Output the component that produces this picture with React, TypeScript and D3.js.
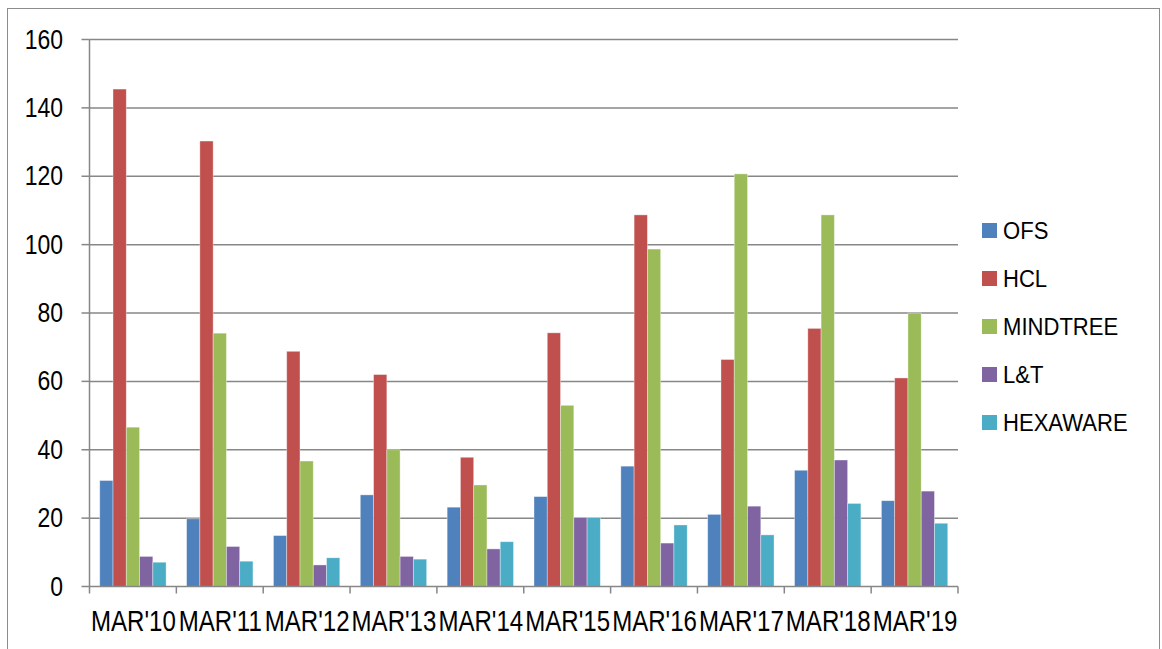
import React from 'react';
import * as d3 from 'd3';

const categories = ["MAR'10", "MAR'11", "MAR'12", "MAR'13", "MAR'14", "MAR'15", "MAR'16", "MAR'17", "MAR'18", "MAR'19"];
const seriesNames = ['OFS', 'HCL', 'MINDTREE', 'L&T', 'HEXAWARE'];
const seriesColors = ['#4F81BD', '#C0504D', '#9BBB59', '#8064A2', '#4BACC6'];

const ofs = [31.0, 19.8, 14.9, 26.8, 23.2, 26.3, 35.2, 21.1, 34.0, 25.1];
const hcl = [145.5, 130.3, 68.8, 62.0, 37.8, 74.2, 108.7, 66.4, 75.5, 61.0];
const mindtree = [46.6, 74.1, 36.7, 40.0, 29.7, 53.0, 98.7, 120.7, 108.7, 80.0];
const lnt = [8.8, 11.7, 6.3, 8.8, 11.0, 20.2, 12.7, 23.5, 37.0, 27.9];
const hexaware = [7.1, 7.4, 8.4, 8.0, 13.1, 20.2, 18.0, 15.1, 24.3, 18.5];

const yTicks = [0, 20, 40, 60, 80, 100, 120, 140, 160];

const allSeries = [ofs, hcl, mindtree, lnt, hexaware];
const font = 'Arial, "Liberation Sans", sans-serif';

export default function App() {
  const width = 1162, height = 649;
  const left = 89.5, right = 958, top = 39.5, bottom = 586.5;

  const x0 = d3.scaleBand<string>().domain(categories).range([left, right]);
  const bw = x0.bandwidth();
  const x1 = d3.scaleBand<string>().domain(seriesNames).range([bw * 0.118, bw * 0.882]);
  const y = d3.scaleLinear().domain([0, 160]).range([bottom, top]);

  const grid = '#878787';

  return (
    <svg width={width} height={height} style={{ position: 'absolute', left: 0, top: 0, background: '#fff' }}>
      <rect x={7.5} y={8.5} width={1152} height={660} fill="#fff" stroke="#8c8c8c" strokeWidth={1} />

      {/* gridlines + y ticks */}
      {yTicks.map(t => (
        <g key={t}>
          {t > 0 && <line x1={left} x2={right} y1={y(t)} y2={y(t)} stroke={grid} strokeWidth={1.5} />}
          <line x1={left - 8} x2={left} y1={y(t)} y2={y(t)} stroke={grid} strokeWidth={1.5} />
          <text transform={`translate(63,${y(t) + 9}) scale(0.82,1)`} textAnchor="end" fontFamily={font} fontSize={28} fill="#000">{t}</text>
        </g>
      ))}

      {/* bars */}
      {categories.map((c, i) => (
        <g key={c} transform={`translate(${x0(c)},0)`}>
          {seriesNames.map((s, j) => (
            <rect key={s}
              x={x1(s)}
              y={y(allSeries[j][i])}
              width={x1.bandwidth()}
              height={y(0) - y(allSeries[j][i])}
              fill={seriesColors[j]}
              stroke="rgba(255,255,255,0.45)"
              strokeWidth={0.8} />
          ))}
        </g>
      ))}

      {/* axes */}
      <line x1={left} x2={left} y1={top} y2={bottom + 7} stroke={grid} strokeWidth={1.5} />
      <line x1={left} x2={right} y1={bottom} y2={bottom} stroke={grid} strokeWidth={1.5} />
      {categories.map(c => (
        <line key={'t' + c} x1={(x0(c) as number) + bw} x2={(x0(c) as number) + bw} y1={bottom} y2={bottom + 7} stroke={grid} strokeWidth={1.5} />
      ))}
      {categories.map(c => (
        <text key={'l' + c} transform={`translate(${(x0(c) as number) + bw / 2 + 0.5},631) scale(0.83,1)`} textAnchor="middle" fontFamily={font} fontSize={29} fill="#000">{c}</text>
      ))}

      {/* legend */}
      {seriesNames.map((s, j) => (
        <g key={'lg' + s} transform={`translate(982,${230.5 + j * 48})`}>
          <rect x={0} y={-7.5} width={15} height={15} fill={seriesColors[j]} />
          <text transform="translate(21,8) scale(0.92,1)" fontFamily={font} fontSize={24} fill="#000">{s}</text>
        </g>
      ))}
    </svg>
  );
}
